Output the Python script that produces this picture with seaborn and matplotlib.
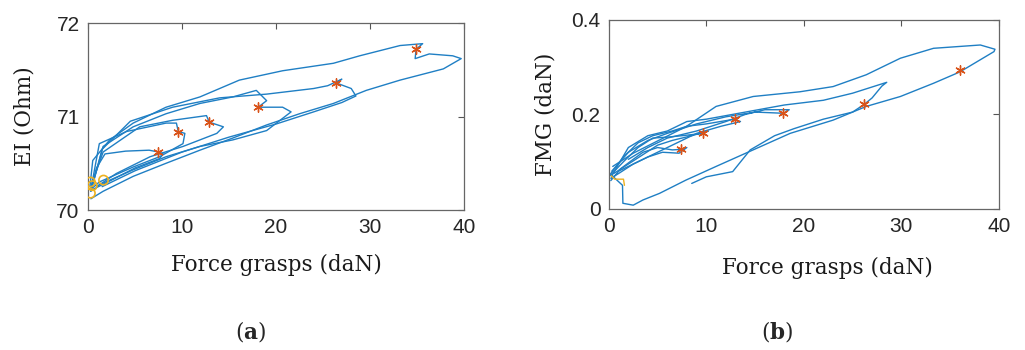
import numpy as np
import pandas as pd
import seaborn as sns
import matplotlib.pyplot as plt

# === Panel (a): EI (Ohm) vs force, one loop per grasp ===
a1_x = [0.3, 0.9, 1.8, 4.0, 6.5, 7.5, 8.0, 7.6, 5.0, 2.5, 0.5]
a1_y = [70.22, 70.45, 70.60, 70.63, 70.64, 70.62, 70.60, 70.55, 70.45, 70.32, 70.22]
a2_x = [0.3, 1.2, 4.1, 8.3, 9.4, 9.6, 10.3, 10.1, 7.6, 4.8, 1.2, 0.3]
a2_y = [70.22, 70.71, 70.84, 70.93, 70.93, 70.84, 70.82, 70.71, 70.57, 70.46, 70.30, 70.22]
a3_x = [0.3, 1.6, 5.5, 9.0, 12.6, 12.9, 14.4, 13.7, 10.1, 6.6, 3.0, 0.9]
a3_y = [70.25, 70.62, 70.89, 70.96, 71.01, 70.94, 70.89, 70.82, 70.68, 70.57, 70.39, 70.25]
a4_x = [0.3, 1.6, 4.8, 8.3, 11.9, 15.4, 17.9, 18.6, 19.0, 18.1, 20.7, 21.6,
        19.0, 15.4, 11.9, 8.3, 4.8, 1.2]
a4_y = [70.2, 70.68, 70.89, 71.03, 71.14, 71.21, 71.28, 71.21, 71.17, 71.10, 71.10, 71.05,
        70.85, 70.75, 70.68, 70.57, 70.43, 70.27]
a5_x = [0.3, 1.5, 4.5, 9.0, 14.0, 19.0, 24.0, 25.5, 27.0, 26.4, 28.0, 28.5,
        27.0, 24.0, 20.0, 15.0, 10.0, 5.0, 1.5]
a5_y = [70.2, 70.65, 70.95, 71.10, 71.20, 71.24, 71.30, 71.33, 71.40, 71.36, 71.30, 71.22,
        71.15, 71.05, 70.92, 70.78, 70.62, 70.42, 70.25]
a6_x = [0.2, 0.5, 2.3, 4.8, 8.3, 11.9, 16.1, 20.7, 26.1, 28.9, 33.2, 35.6, 34.9, 34.8,
        36.3, 38.8, 39.7, 37.8, 33.2, 29.6, 26.1, 22.5, 19.0, 15.4, 11.9, 8.3, 4.8, 1.6, 0.3]
a6_y = [70.25, 70.53, 70.75, 70.93, 71.10, 71.21, 71.39, 71.49, 71.57, 71.65, 71.76, 71.78,
        71.72, 71.62, 71.67, 71.65, 71.62, 71.51, 71.39, 71.28, 71.14, 71.03, 70.91, 70.77,
        70.64, 70.50, 70.36, 70.20, 70.12]
a_peak_x = [7.45, 9.57, 12.9, 18.1, 26.4, 34.9]
a_peak_y = [70.62, 70.84, 70.94, 71.10, 71.36, 71.72]
a_start_x = [0.25, 0.45, 0.25, 1.65]
a_start_y = [70.30, 70.26, 70.18, 70.32]

# === Panel (b): FMG (daN) vs force ===
b1_x = [0.2, 1.2, 2.5, 3.5, 5.0, 6.5, 7.4, 8.0, 7.2, 5.5, 4.0, 2.5, 1.0, 0.2]
b1_y = [0.06, 0.085, 0.105, 0.12, 0.13, 0.125, 0.126, 0.13, 0.118, 0.12, 0.11, 0.095, 0.075, 0.065]
b2_x = [0.1, 1.5, 3.0, 4.5, 6.0, 7.5, 9.66, 10.2, 8.5, 6.5, 5.0, 3.5, 2.0, 0.5]
b2_y = [0.07, 0.10, 0.13, 0.15, 0.152, 0.155, 0.16, 0.165, 0.155, 0.145, 0.135, 0.115, 0.095, 0.075]
b3_x = [0.2, 1.5, 3.0, 4.5, 6.5, 8.0, 10.0, 12.9, 13.5, 11.5, 9.0, 7.0, 5.0, 3.0, 1.0]
b3_y = [0.075, 0.11, 0.14, 0.155, 0.165, 0.175, 0.18, 0.19, 0.185, 0.175, 0.16, 0.14, 0.12, 0.10, 0.08]
b4_x = [0.3, 2.0, 4.0, 6.0, 9.0, 12.0, 15.0, 17.9, 18.5, 16.0, 14.0, 12.0, 9.0, 6.0, 4.0, 2.0]
b4_y = [0.08, 0.12, 0.145, 0.16, 0.18, 0.195, 0.205, 0.2025, 0.21, 0.21, 0.20, 0.185, 0.165,
        0.15, 0.13, 0.105]
b5_x = [0.3, 2.0, 4.0, 6.0, 8.0, 10.0, 14.0, 18.0, 22.0, 25.0, 28.5, 28.0, 27.0, 26.2,
        25.0, 22.0, 19.0, 17.0, 14.5, 12.7, 10.0, 8.5]
b5_y = [0.07, 0.13, 0.155, 0.165, 0.185, 0.19, 0.205, 0.22, 0.23, 0.245, 0.268, 0.26, 0.235,
        0.2215, 0.205, 0.19, 0.17, 0.155, 0.125, 0.079, 0.068, 0.054]
b6_x = [0.4, 2.5, 5.2, 7.9, 11.0, 14.8, 19.6, 23.0, 26.4, 29.9, 33.3, 38.1, 39.6, 39.5,
        36.0, 33.3, 29.9, 26.4, 23.0, 18.6, 14.8, 11.0, 7.9, 5.2, 3.5, 2.5, 1.44, 1.4, 0.1]
b6_y = [0.09, 0.118, 0.146, 0.174, 0.217, 0.238, 0.248, 0.259, 0.284, 0.319, 0.34, 0.347,
        0.338, 0.333, 0.29, 0.266, 0.238, 0.217, 0.188, 0.16, 0.125, 0.09, 0.061, 0.033,
        0.019, 0.008, 0.012, 0.05, 0.075]
b_peak_x = [7.43, 9.66, 12.9, 17.9, 26.2, 36.0]
b_peak_y = [0.126, 0.160, 0.190, 0.2025, 0.2215, 0.294]
b_start_x = [0.25, 0.6, 1.5, 1.6]
b_start_y = [0.07, 0.063, 0.063, 0.05]

BLUE = "#1f7fc4"
RED = "#D95319"
YELLOW = "#EDB120"


def loops_frame(loops):
    parts = []
    for i, (xs, ys) in enumerate(loops):
        parts.append(pd.DataFrame({"x": xs, "y": ys, "loop": i, "order": range(len(xs))}))
    return pd.concat(parts, ignore_index=True)


df_a = loops_frame([(a1_x, a1_y), (a2_x, a2_y), (a3_x, a3_y),
                    (a4_x, a4_y), (a5_x, a5_y), (a6_x, a6_y)])
df_b = loops_frame([(b1_x, b1_y), (b2_x, b2_y), (b3_x, b3_y),
                    (b4_x, b4_y), (b5_x, b5_y), (b6_x, b6_y)])

sns.set_style("white")
plt.rcParams["font.family"] = ["Liberation Sans", "DejaVu Sans"]
plt.rcParams["mathtext.fontset"] = "dejavuserif"

fig = plt.figure(figsize=(10.25, 3.5), dpi=100)
ax_a = fig.add_axes([0.0859, 0.40, 0.3668, 0.534])
ax_b = fig.add_axes([0.594, 0.403, 0.3805, 0.54])

sns.lineplot(data=df_a, x="x", y="y", units="loop", estimator=None, sort=False,
             color=BLUE, lw=1.0, ax=ax_a)
sns.scatterplot(x=a_peak_x, y=a_peak_y, marker=(6, 2, 0), color=RED, s=45,
                linewidth=1.0, ax=ax_a, zorder=3)
sns.scatterplot(x=a_start_x, y=a_start_y, marker="o", facecolor="none", edgecolor=YELLOW,
                s=45, linewidth=1.2, ax=ax_a, zorder=3)

sns.lineplot(data=df_b, x="x", y="y", units="loop", estimator=None, sort=False,
             color=BLUE, lw=1.0, ax=ax_b)
sns.lineplot(x=b_start_x, y=b_start_y, sort=False, estimator=None, color=YELLOW,
             lw=1.0, ax=ax_b)
sns.scatterplot(x=b_peak_x, y=b_peak_y, marker=(6, 2, 0), color=RED, s=45,
                linewidth=1.0, ax=ax_b, zorder=3)

serif = ["DejaVu Serif"]
for ax, ylab, ylim, yticks, ylabels in [
        (ax_a, "EI (Ohm)", (70, 72), [70, 71, 72], ["70", "71", "72"]),
        (ax_b, "FMG (daN)", (0, 0.4), [0, 0.2, 0.4], ["0", "0.2", "0.4"])]:
    ax.set_xlim(0, 40)
    ax.set_ylim(*ylim)
    ax.set_xticks([0, 10, 20, 30, 40])
    ax.set_yticks(yticks)
    ax.set_yticklabels(ylabels)
    ax.tick_params(direction="in", length=4, width=0.8, top=True, right=True,
                   labelsize=15, labelcolor="#262626", color="#555555", pad=6)
    for s in ax.spines.values():
        s.set_color("#666666")
        s.set_linewidth(0.9)
    ax.set_ylabel(ylab, family=serif, fontsize=15.5, color="#1a1a1a")
    ax.set_xlabel("Force grasps (daN)", family=serif, fontsize=15.5, color="#1a1a1a")

ax_a.yaxis.set_label_coords(-0.14, 0.5)
ax_a.xaxis.set_label_coords(0.5, -0.235)
ax_b.yaxis.set_label_coords(-0.135, 0.5)
ax_b.xaxis.set_label_coords(0.56, -0.255)

fig.text(251 / 1025, 1 - 332 / 350, r"(${\bf a}$)", family=serif, fontsize=15.5,
         ha="center", va="center")
fig.text(777 / 1025, 1 - 332 / 350, r"(${\bf b}$)", family=serif, fontsize=15.5,
         ha="center", va="center")

fig.savefig("out.png", dpi=100)
